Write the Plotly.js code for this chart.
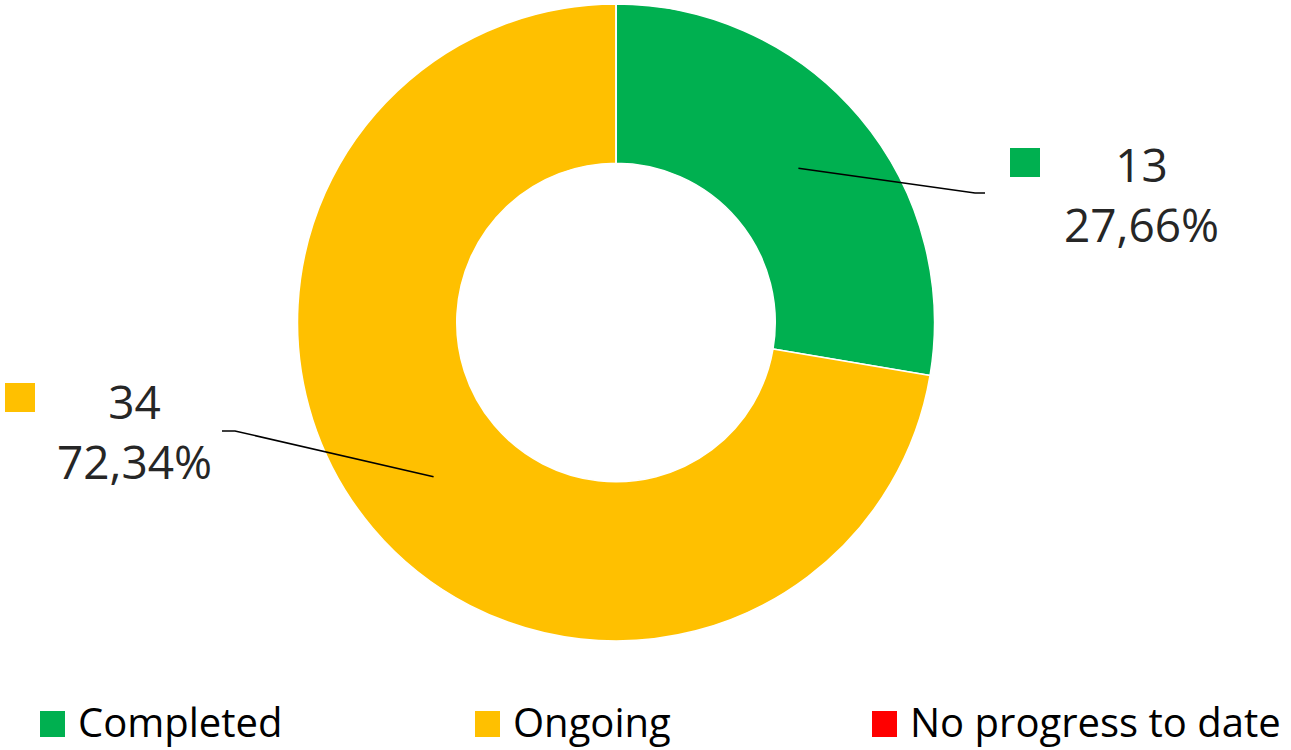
<!DOCTYPE html>
<html>
<head>
<meta charset="utf-8">
<script src="https://cdn.plot.ly/plotly-3.0.1.min.js"></script>
<style>html,body{margin:0;padding:0;background:#fff;}#chart{width:1291px;height:750px;}</style>
</head>
<body>
<div id="chart"></div>
<script>
// ---- data ----
var categories = ["Completed", "Ongoing", "No progress to date"];
var values = [13, 34, 0];
var colors = ["#00B050", "#FFC000", "#FF0000"];

// ---- layout constants (pixels) ----
var W = 1291, H = 750;
var cx = 616, cy = 322.5, rOut = 318.5, holeFrac = 0.5;
// label placements for non-zero slices: square key, text centre, leader bend/end
var labelPos = [
  {sq: [1010, 148], text: [1141, 194], bend: [975, 193], end: [985, 193]},
  {sq: [5, 383], text: [134, 431], bend: [235, 431], end: [222, 431]}
];
var legendPos = [[40, 711], [475, 711], [872, 711]];

function px(x) { return x / W; }
function py(y) { return 1 - y / H; }

var total = values.reduce(function (a, b) { return a + b; }, 0);
function fmtPct(v) { return (v / total * 100).toFixed(2).replace('.', ',') + '%'; }

var trace = {
  type: 'pie',
  labels: categories,
  values: values,
  marker: {colors: colors, line: {color: '#ffffff', width: 1.5}},
  hole: holeFrac,
  sort: false,
  direction: 'clockwise',
  rotation: 0,
  textinfo: 'none',
  hoverinfo: 'label+value+percent',
  showlegend: false,
  domain: {x: [px(cx - rOut), px(cx + rOut)], y: [py(cy + rOut), py(cy - rOut)]}
};

var annotations = [], shapes = [];
var cum = 0, li = 0;
var rMid = rOut * (1 + holeFrac) / 2;
for (var i = 0; i < values.length; i++) {
  var v = values[i];
  var midFrac = (cum + v / 2) / total;
  cum += v;
  if (v <= 0) continue;
  var lp = labelPos[li++];
  var ang = midFrac * 2 * Math.PI;
  var sx = cx + rMid * Math.sin(ang), sy = cy - rMid * Math.cos(ang);
  shapes.push({
    type: 'path', xref: 'paper', yref: 'paper',
    path: 'M' + px(sx) + ',' + py(sy) + ' L' + px(lp.bend[0]) + ',' + py(lp.bend[1]) + ' L' + px(lp.end[0]) + ',' + py(lp.end[1]),
    line: {color: '#000000', width: 1.5}
  });
  shapes.push({
    type: 'rect', xref: 'paper', yref: 'paper',
    x0: px(lp.sq[0]), x1: px(lp.sq[0] + 30), y0: py(lp.sq[1] + 29), y1: py(lp.sq[1]),
    fillcolor: colors[i], line: {width: 0}
  });
  annotations.push({
    xref: 'paper', yref: 'paper', x: px(lp.text[0]), y: py(lp.text[1]),
    xanchor: 'center', yanchor: 'middle', showarrow: false, align: 'center',
    text: v + '<br>' + fmtPct(v),
    font: {family: 'Open Sans, Noto Sans, sans-serif', size: 46, color: '#262626'}
  });
}

// custom legend
for (var j = 0; j < categories.length; j++) {
  var lg = legendPos[j];
  shapes.push({
    type: 'rect', xref: 'paper', yref: 'paper',
    x0: px(lg[0]), x1: px(lg[0] + 25), y0: py(lg[1] + 26), y1: py(lg[1]),
    fillcolor: colors[j], line: {width: 0}
  });
  annotations.push({
    xref: 'paper', yref: 'paper', x: px(lg[0] + 36), y: py(lg[1] + 10),
    xanchor: 'left', yanchor: 'middle', showarrow: false,
    text: categories[j],
    font: {family: 'Open Sans, Noto Sans, sans-serif', size: 40, color: '#000000'}
  });
}

var layout = {
  width: W, height: H,
  margin: {l: 0, r: 0, t: 0, b: 0},
  paper_bgcolor: '#ffffff', plot_bgcolor: '#ffffff',
  showlegend: false,
  shapes: shapes,
  annotations: annotations
};

Plotly.newPlot('chart', [trace], layout, {displayModeBar: false, staticPlot: true});
</script>
</body>
</html>
